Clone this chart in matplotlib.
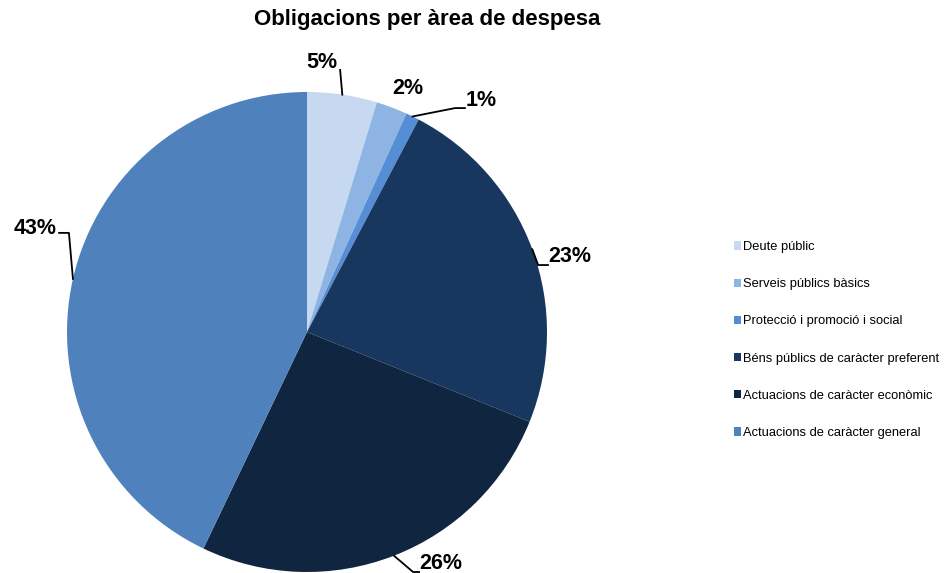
"""Pie chart: Obligacions per àrea de despesa."""
import matplotlib
matplotlib.use("Agg")
import matplotlib.pyplot as plt
import numpy as np

plt.rcParams["font.family"] = ["Liberation Sans", "DejaVu Sans"]

# ---------------------------------------------------------------------------
# Data
# ---------------------------------------------------------------------------
categories = [
    "Deute públic",
    "Serveis públics bàsics",
    "Protecció i promoció i social",
    "Béns públics de caràcter preferent",
    "Actuacions de caràcter econòmic",
    "Actuacions de caràcter general",
]
shares = [4.7, 2.1, 0.9, 23.4, 26.0, 42.9]
colors = ["#C6D9F1", "#8EB4E3", "#558ED5", "#17375E", "#10253F", "#4F81BD"]

# label text positions and leader-line elbows (layout, in pie radius units)
label_pos = [(0.063, 1.125), (0.421, 1.013), (0.725, 0.963),
             (1.096, 0.313), (0.558, -0.963), (-1.133, 0.433)]
elbows = [
    [(0.138, 1.092)],
    None,
    [(0.617, 0.933), (0.658, 0.933)],
    [(0.963, 0.279), (1.004, 0.279)],
    [(0.442, -1.0), (0.467, -1.0)],
    [(-0.992, 0.413), (-1.033, 0.413)],
]

fig = plt.figure(figsize=(9.49, 5.73), dpi=100)
ax = fig.add_axes([67 / 949, 1 / 573, 480 / 949, 480 / 573])

wedges, _ = ax.pie(shares, colors=colors, startangle=90, counterclock=False,
                   radius=1.0)
ax.set_xlim(-1, 1)
ax.set_ylim(-1, 1)
ax.set_aspect("equal")
ax.axis("off")

for w, val, pos, elb in zip(wedges, shares, label_pos, elbows):
    mid = np.deg2rad((w.theta1 + w.theta2) / 2)
    edge = (np.cos(mid), np.sin(mid))
    if elb is not None:
        pts = [edge] + elb
        xs, ys = zip(*pts)
        ax.plot(xs, ys, color="black", lw=1.3, clip_on=False)
    ax.text(pos[0], pos[1], f"{val:.0f}%", ha="center", va="center",
            fontsize=15.5, fontweight="bold", clip_on=False)

fig.text(427 / 949, 1 - 19 / 573, "Obligacions per àrea de despesa",
         ha="center", va="center", fontsize=16, fontweight="bold")

handles = [plt.Rectangle((0, 0), 1, 1, facecolor=c, edgecolor="none")
           for c in colors]
fig.legend(handles, categories, loc="center left",
           bbox_to_anchor=(722 / 949, 1 - 340 / 573), frameon=False,
           fontsize=9.3, labelspacing=1.95, handlelength=0.6,
           handleheight=0.6, handletextpad=0.15)

fig.savefig("out.png", dpi=100)
